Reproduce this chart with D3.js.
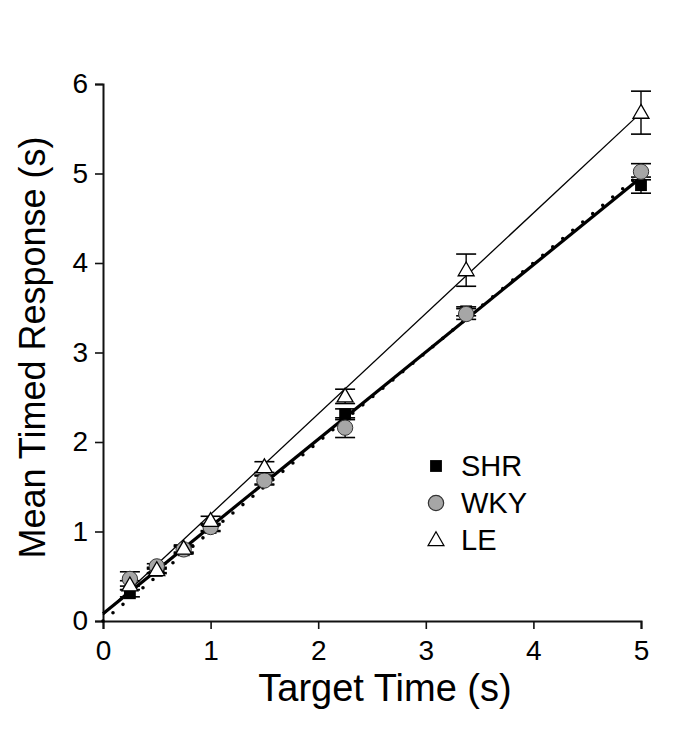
<!DOCTYPE html>
<html><head><meta charset="utf-8">
<script src="https://cdn.jsdelivr.net/npm/d3@7"></script>
<style>body{margin:0;background:#fff}</style>
</head><body>
<svg id="c" width="685" height="740"></svg>
<script>
const targetTimes = [0.25, 0.5, 0.75, 1.0, 1.5, 2.25, 3.375, 5.0];
const shrMean = [0.31, 0.56, 0.79, 1.04, 1.58, 2.31, 3.46, 4.87];
const shrErr  = [0.04, 0.03, 0.04, 0.04, 0.05, 0.06, 0.05, 0.09];
const wkyMean = [0.47, 0.61, 0.80, 1.05, 1.57, 2.16, 3.43, 5.02];
const wkyErr  = [0.08, 0.03, 0.04, 0.04, 0.05, 0.11, 0.06, 0.09];
const leMean  = [0.40, 0.57, 0.81, 1.12, 1.72, 2.51, 3.92, 5.68];
const leErr   = [0.05, 0.03, 0.04, 0.05, 0.06, 0.08, 0.18, 0.24];
// regression lines [intercept, slope]
const shrFit = [0.08, 0.975];
const wkyFit = [0.0, 1.0];
const leFit  = [0.07, 1.122];
const xTicks = [0, 1, 2, 3, 4, 5];
const yTicks = [0, 1, 2, 3, 4, 5, 6];
const legendLabels = ["SHR", "WKY", "LE"];

const svg = d3.select("#c");
const x = d3.scaleLinear().domain([0, 5]).range([103, 641]);
const y = d3.scaleLinear().domain([0, 6]).range([621, 84]);
const font = "'Liberation Sans', Arial, sans-serif";

// axes
const xa = svg.append("g").attr("transform", `translate(0,${y(0)})`)
  .call(d3.axisBottom(x).tickValues(xTicks).tickSize(8).tickPadding(6).tickFormat(d3.format("d")));
const ya = svg.append("g").attr("transform", `translate(${x(0)},0)`)
  .call(d3.axisLeft(y).tickValues(yTicks).tickSize(8).tickPadding(7).tickFormat(d3.format("d")));
[xa, ya].forEach(g => {
  g.select(".domain").attr("stroke", "#111").attr("stroke-width", 2);
  g.selectAll(".tick line").attr("stroke", "#111").attr("stroke-width", 1.6);
  g.selectAll(".tick text").attr("font-family", font).attr("font-size", 28).attr("fill", "#000");
});
xa.selectAll(".tick text").attr("dy", "0.9em");

// titles
svg.append("text").attr("x", (x(0) + x(5)) / 2 + 13).attr("y", 701).attr("text-anchor", "middle")
  .attr("font-family", font).attr("font-size", 38).text("Target Time (s)");
svg.append("text").attr("transform", `translate(45,${(y(0) + y(6)) / 2 - 5}) rotate(-90)`)
  .attr("text-anchor", "middle").attr("font-family", font).attr("font-size", 36).text("Mean Timed Response (s)");

const plot = svg.append("g");
const line = d3.line().x(d => x(d[0])).y(d => y(d[1]));
const fitPts = f => [[0, f[0]], [5, f[0] + 5 * f[1]]];

// regression lines
plot.append("path").attr("d", line(fitPts(leFit))).attr("fill", "none").attr("stroke", "#000").attr("stroke-width", 1.3);
plot.append("path").attr("d", line(fitPts(shrFit))).attr("fill", "none").attr("stroke", "#000").attr("stroke-width", 3.2);
plot.append("path").attr("d", line(fitPts(wkyFit))).attr("fill", "none").attr("stroke", "#000")
  .attr("stroke-width", 3.6).attr("stroke-linecap", "round").attr("stroke-dasharray", "0 13");

// error bars + markers
function errBars(means, errs) {
  const g = plot.append("g");
  targetTimes.forEach((t, i) => {
    const cx = x(t), top = y(means[i] + errs[i]), bot = y(means[i] - errs[i]);
    g.append("line").attr("x1", cx).attr("x2", cx).attr("y1", top).attr("y2", bot).attr("stroke", "#000").attr("stroke-width", 1.4);
    [top, bot].forEach(yy => g.append("line").attr("x1", cx - 10).attr("x2", cx + 10).attr("y1", yy).attr("y2", yy)
      .attr("stroke", "#000").attr("stroke-width", 1.6));
  });
}
errBars(shrMean, shrErr);
errBars(wkyMean, wkyErr);
errBars(leMean, leErr);

const sqSym = d3.symbol().type(d3.symbolSquare).size(140);
const ciSym = d3.symbol().type(d3.symbolCircle).size(185);
const trSym = d3.symbol().type(d3.symbolTriangle).size(110);

plot.selectAll(".shr").data(targetTimes).join("path").attr("d", sqSym)
  .attr("transform", (d, i) => `translate(${x(d)},${y(shrMean[i])})`).attr("fill", "#000");
plot.selectAll(".wky").data(targetTimes).join("path").attr("d", ciSym)
  .attr("transform", (d, i) => `translate(${x(d)},${y(wkyMean[i])})`).attr("fill", "#a6a6a6").attr("stroke", "#333").attr("stroke-width", 1);
plot.selectAll(".le").data(targetTimes).join("path").attr("d", trSym)
  .attr("transform", (d, i) => `translate(${x(d)},${y(leMean[i]) + 1})`).attr("fill", "#fff").attr("stroke", "#000").attr("stroke-width", 1.3);

// legend
const lg = svg.append("g");
const syms = [
  { s: d3.symbol().type(d3.symbolSquare).size(140), fill: "#000", stroke: "none" },
  { s: d3.symbol().type(d3.symbolCircle).size(185), fill: "#a6a6a6", stroke: "#333" },
  { s: d3.symbol().type(d3.symbolTriangle).size(110), fill: "#fff", stroke: "#000" }
];
legendLabels.forEach((lab, i) => {
  const ly = 466 + i * 37;
  lg.append("path").attr("d", syms[i].s).attr("transform", `translate(436,${ly + (i === 2 ? 1 : 0)})`)
    .attr("fill", syms[i].fill).attr("stroke", syms[i].stroke).attr("stroke-width", 1.2);
  lg.append("text").attr("x", 461).attr("y", ly + 10).attr("font-family", font).attr("font-size", 29).text(lab);
});
</script>
</body></html>
